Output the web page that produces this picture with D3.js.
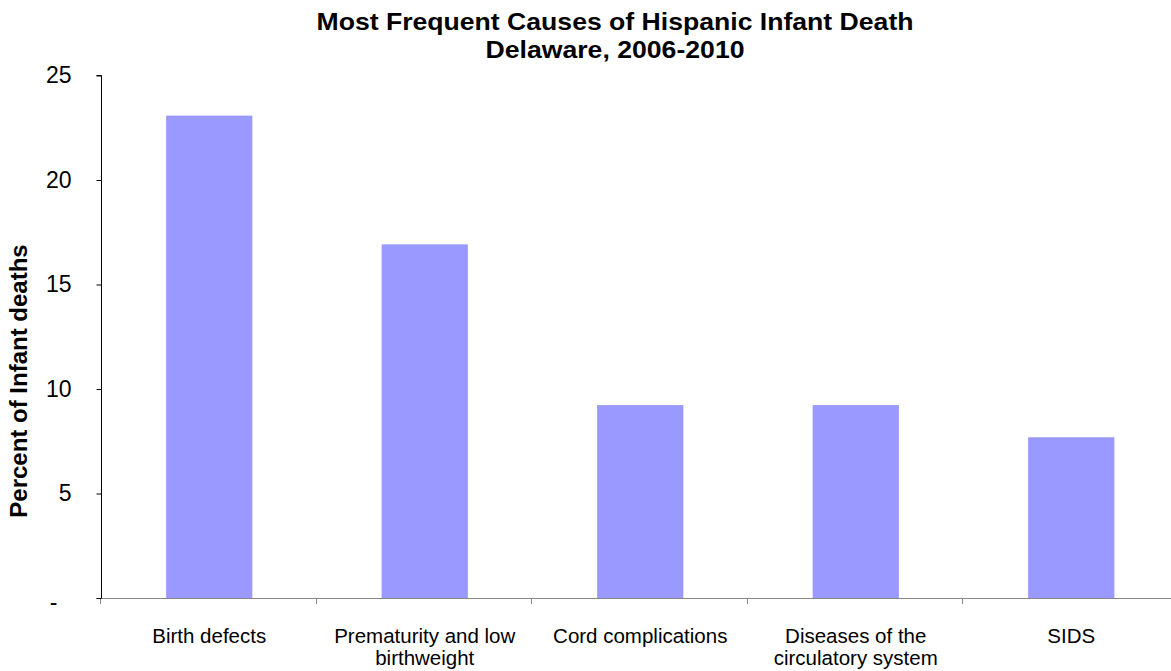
<!DOCTYPE html>
<html><head><meta charset="utf-8">
<script src="https://cdn.jsdelivr.net/npm/d3@7"></script>
<style>body{margin:0;background:#fff}svg{display:block}text{font-family:"Liberation Sans",Arial,sans-serif}</style>
</head><body><svg id="c" width="1171" height="671"></svg>
<script>
const categories = [["Birth defects"],["Prematurity and low","birthweight"],["Cord complications"],["Diseases of the","circulatory system"],["SIDS"]];
const values = [23.08, 16.92, 9.23, 9.23, 7.69];
const yTicks = [0,5,10,15,20,25];
const yTickLabels = ["-","5","10","15","20","25"];
const titleLines = ["Most Frequent Causes of Hispanic Infant Death","Delaware, 2006-2010"];
const yLabel = "Percent of Infant deaths";

const svg = d3.select("#c");
const x = d3.scaleBand().domain(d3.range(values.length)).range([100.5,1178]).paddingInner(0.6).paddingOuter(0.3);
const y = d3.scaleLinear().domain([0,25]).range([598,75.5]);

// bars
svg.append("g").selectAll("rect").data(values).join("rect")
  .attr("x",(d,i)=>x(i)+1).attr("y",d=>y(d)).attr("width",x.bandwidth()).attr("height",d=>y(0)-y(d))
  .attr("fill","#9999ff");

// x axis
const xa = svg.append("g");
const step = x.step();
xa.append("line").attr("x1",96).attr("x2",1171).attr("y1",598.5).attr("y2",598.5).attr("stroke","#888").attr("stroke-width",1);
xa.selectAll(".xt").data(d3.range(values.length+1)).join("line")
  .attr("x1",i=>Math.round(100+i*step)+0.5).attr("x2",i=>Math.round(100+i*step)+0.5)
  .attr("y1",598).attr("y2",604).attr("stroke","#888");
categories.forEach((lines,i)=>{
  const cx = x(i)+x.bandwidth()/2+1;
  const t = xa.append("text").attr("x",cx).attr("y",643).attr("text-anchor","middle").attr("font-size",20.5).attr("fill","#000");
  lines.forEach((l,j)=>t.append("tspan").attr("x",cx).attr("dy",j?22:0).text(l));
});

// y axis
const ya = svg.append("g").attr("transform","translate(101.5,0)")
  .call(d3.axisLeft(y).tickValues(yTicks).tickFormat((d,i)=>yTickLabels[i]).tickSize(5).tickPadding(25));
ya.select(".domain").attr("stroke","#000").attr("d","M-5,"+y(25)+"H0V"+y(0));
ya.selectAll("line").attr("stroke","#000");
ya.selectAll("text").attr("font-size",23).attr("fill","#000").attr("font-family","'Liberation Sans',Arial,sans-serif")
  .attr("dx",(d,i)=>yTickLabels[i]==="-"?-14:0).attr("dy",(d,i)=>yTickLabels[i]==="-"?"0.5em":"0.32em");

// y label
svg.append("text").attr("transform","translate(27,381) rotate(-90)").attr("text-anchor","middle")
  .attr("font-size",24).attr("font-weight","bold").text(yLabel);

// title
const titleW = [597, 259];
titleLines.forEach((l,j)=>svg.append("text").attr("x",615).attr("y",30+j*28).attr("text-anchor","middle")
  .attr("font-size",24).attr("font-weight","bold").attr("textLength",titleW[j]).attr("lengthAdjust","spacingAndGlyphs").text(l));
</script></body></html>
